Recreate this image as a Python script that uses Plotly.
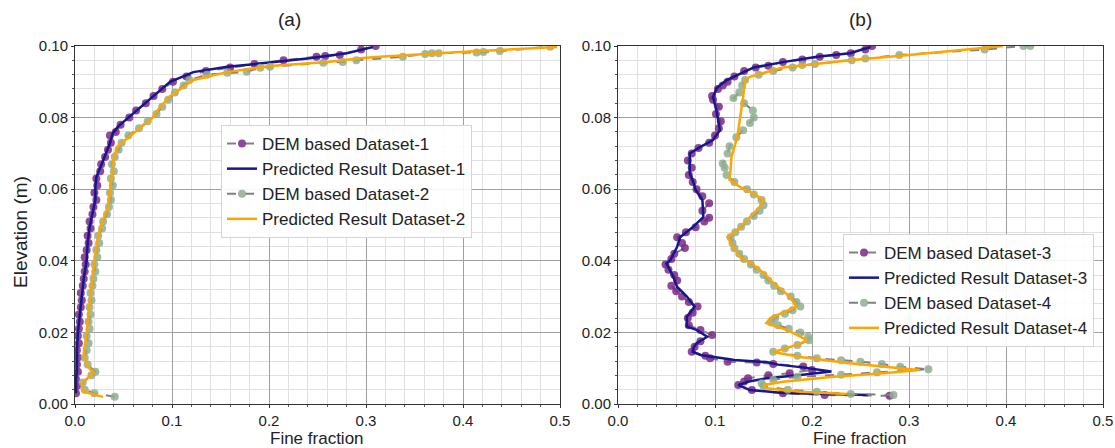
import plotly.graph_objects as go

# ---------------- data: panel (a) ----------------
dem1_y = [0.0030, 0.0050, 0.0070, 0.0090, 0.0110, 0.0130, 0.0150, 0.0170, 0.0190, 0.0210,
          0.0230, 0.0250, 0.0270, 0.0290, 0.0310, 0.0330, 0.0350, 0.0370, 0.0390, 0.0410,
          0.0430, 0.0450, 0.0470, 0.0490, 0.0510, 0.0530, 0.0550, 0.0570, 0.0590, 0.0610,
          0.0630, 0.0650, 0.0670, 0.0690, 0.0710, 0.0730, 0.0750, 0.0760, 0.0780, 0.0800,
          0.0820, 0.0840, 0.0860, 0.0880, 0.0900, 0.0915, 0.0930, 0.0940, 0.0950, 0.0960,
          0.0970, 0.0972, 0.0975, 0.0990, 0.1000]
dem1_x = [0.001, 0.002, 0.001, 0.003, 0.002, 0.003, 0.002, 0.004, 0.003, 0.004,
          0.005, 0.004, 0.006, 0.007, 0.006, 0.008, 0.009, 0.010, 0.011, 0.010,
          0.012, 0.014, 0.013, 0.016, 0.015, 0.018, 0.019, 0.022, 0.020, 0.023,
          0.022, 0.026, 0.027, 0.031, 0.034, 0.037, 0.036, 0.042, 0.047, 0.056,
          0.063, 0.073, 0.081, 0.090, 0.101, 0.115, 0.135, 0.160, 0.185, 0.215,
          0.249, 0.258, 0.273, 0.295, 0.310]

pred1_y = [0.0030, 0.0060, 0.0104, 0.0150, 0.0200, 0.0250, 0.0290, 0.0350, 0.0400, 0.0450,
           0.0494, 0.0530, 0.0570, 0.0606, 0.0634, 0.0673, 0.0700, 0.0729, 0.0757, 0.0774,
           0.0800, 0.0835, 0.0870, 0.0900, 0.0927, 0.0942, 0.0953, 0.0966, 0.0980, 0.0997]
pred1_x = [0.001, 0.001, 0.002, 0.002, 0.003, 0.005, 0.007, 0.009, 0.012, 0.013,
           0.015, 0.018, 0.021, 0.021, 0.022, 0.028, 0.032, 0.036, 0.039, 0.044,
           0.055, 0.070, 0.085, 0.098, 0.122, 0.157, 0.198, 0.242, 0.280, 0.307]

dem2_y = [0.0020, 0.0030, 0.0040, 0.0060, 0.0080, 0.0090, 0.0110, 0.0130, 0.0150, 0.0170,
          0.0190, 0.0210, 0.0230, 0.0250, 0.0270, 0.0290, 0.0310, 0.0330, 0.0350, 0.0370,
          0.0390, 0.0410, 0.0430, 0.0450, 0.0470, 0.0490, 0.0510, 0.0530, 0.0550, 0.0570,
          0.0590, 0.0610, 0.0630, 0.0650, 0.0670, 0.0690, 0.0710, 0.0730, 0.0750, 0.0770,
          0.0790, 0.0810, 0.0830, 0.0850, 0.0870, 0.0890, 0.0905, 0.0920, 0.0925, 0.0928,
          0.0939, 0.0942, 0.0953, 0.0955, 0.0960, 0.0970, 0.0978, 0.0980, 0.0980, 0.0982,
          0.0983, 0.0986, 0.0998]
dem2_x = [0.041, 0.020, 0.010, 0.008, 0.017, 0.021, 0.013, 0.010, 0.012, 0.014,
          0.012, 0.015, 0.014, 0.016, 0.015, 0.017, 0.016, 0.018, 0.019, 0.021,
          0.020, 0.023, 0.022, 0.025, 0.024, 0.028, 0.029, 0.033, 0.035, 0.037,
          0.036, 0.039, 0.037, 0.040, 0.038, 0.041, 0.045, 0.048, 0.055, 0.066,
          0.075, 0.084, 0.090, 0.096, 0.103, 0.112, 0.118, 0.136, 0.157, 0.177,
          0.191, 0.201, 0.256, 0.276, 0.290, 0.338, 0.361, 0.368, 0.375, 0.414,
          0.421, 0.438, 0.490]

pred2_y = [0.0020, 0.0034, 0.0059, 0.0087, 0.0110, 0.0140, 0.0200, 0.0250, 0.0290, 0.0340,
           0.0380, 0.0440, 0.0494, 0.0550, 0.0598, 0.0654, 0.0690, 0.0720, 0.0765, 0.0800,
           0.0830, 0.0860, 0.0905, 0.0927, 0.0944, 0.0955, 0.0966, 0.0970, 0.0983, 0.0997]
pred2_x = [0.029, 0.009, 0.007, 0.019, 0.012, 0.009, 0.012, 0.014, 0.015, 0.017,
           0.019, 0.022, 0.026, 0.034, 0.036, 0.038, 0.040, 0.044, 0.064, 0.080,
           0.088, 0.098, 0.122, 0.157, 0.201, 0.260, 0.294, 0.314, 0.397, 0.497]

# ---------------- data: panel (b) ----------------
dem3_y = [0.0023, 0.0025, 0.0030, 0.0039, 0.0053, 0.0063, 0.0072, 0.0080, 0.0086, 0.0095,
          0.0105, 0.0112, 0.0116, 0.0118, 0.0128, 0.0135, 0.0146, 0.0160, 0.0175, 0.0193,
          0.0207, 0.0220, 0.0240, 0.0255, 0.0272, 0.0285, 0.0300, 0.0315, 0.0330, 0.0345,
          0.0360, 0.0375, 0.0390, 0.0405, 0.0420, 0.0436, 0.0450, 0.0466, 0.0480, 0.0494,
          0.0510, 0.0520, 0.0540, 0.0561, 0.0580, 0.0600, 0.0620, 0.0640, 0.0660, 0.0680,
          0.0700, 0.0715, 0.0730, 0.0750, 0.0770, 0.0790, 0.0810, 0.0830, 0.0850, 0.0860,
          0.0880, 0.0890, 0.0900, 0.0915, 0.0930, 0.0940, 0.0945, 0.0955, 0.0962, 0.0970,
          0.0975, 0.0980, 0.0990, 0.1000]
dem3_x = [0.280, 0.213, 0.170, 0.138, 0.124, 0.130, 0.134, 0.155, 0.177, 0.200,
          0.191, 0.160, 0.143, 0.113, 0.095, 0.090, 0.076, 0.079, 0.085, 0.097,
          0.085, 0.073, 0.072, 0.077, 0.082, 0.073, 0.066, 0.060, 0.055, 0.061,
          0.058, 0.052, 0.049, 0.055, 0.058, 0.069, 0.066, 0.061, 0.070, 0.080,
          0.089, 0.094, 0.087, 0.094, 0.087, 0.081, 0.077, 0.073, 0.076, 0.072,
          0.076, 0.083, 0.094, 0.100, 0.104, 0.106, 0.101, 0.104, 0.098, 0.097,
          0.103, 0.108, 0.113, 0.120, 0.130, 0.142, 0.155, 0.170, 0.190, 0.208,
          0.225, 0.240, 0.255, 0.262]

pred3_y = [0.0025, 0.0028, 0.0031, 0.0039, 0.0053, 0.0063, 0.0072, 0.0081, 0.0091, 0.0103,
           0.0110, 0.0117, 0.0123, 0.0128, 0.0137, 0.0146, 0.0158, 0.0170, 0.0188, 0.0207,
           0.0216, 0.0244, 0.0272, 0.0300, 0.0327, 0.0355, 0.0393, 0.0402, 0.0439, 0.0466,
           0.0494, 0.0522, 0.0570, 0.0598, 0.0626, 0.0645, 0.0700, 0.0718, 0.0737, 0.0765,
           0.0813, 0.0858, 0.0883, 0.0905, 0.0927, 0.0940, 0.0955, 0.0970, 0.0980, 0.0997]
pred3_x = [0.258, 0.205, 0.170, 0.136, 0.124, 0.135, 0.153, 0.188, 0.220, 0.188,
           0.165, 0.153, 0.120, 0.108, 0.085, 0.077, 0.078, 0.081, 0.092, 0.081,
           0.071, 0.071, 0.079, 0.071, 0.061, 0.057, 0.050, 0.054, 0.061, 0.064,
           0.077, 0.088, 0.087, 0.080, 0.077, 0.074, 0.074, 0.085, 0.098, 0.105,
           0.102, 0.098, 0.102, 0.112, 0.129, 0.140, 0.170, 0.205, 0.239, 0.260]

dem4_y = [0.0025, 0.0028, 0.0034, 0.0040, 0.0050, 0.0058, 0.0068, 0.0076, 0.0082, 0.0089,
          0.0097, 0.0104, 0.0112, 0.0118, 0.0122, 0.0128, 0.0135, 0.0146, 0.0155, 0.0165,
          0.0178, 0.0188, 0.0200, 0.0210, 0.0220, 0.0228, 0.0240, 0.0252, 0.0262, 0.0272,
          0.0285, 0.0300, 0.0315, 0.0330, 0.0345, 0.0360, 0.0375, 0.0390, 0.0405, 0.0420,
          0.0435, 0.0450, 0.0466, 0.0480, 0.0495, 0.0510, 0.0525, 0.0540, 0.0555, 0.0570,
          0.0585, 0.0600, 0.0620, 0.0640, 0.0660, 0.0672, 0.0700, 0.0720, 0.0745, 0.0765,
          0.0785, 0.0800, 0.0820, 0.0840, 0.0855, 0.0870, 0.0890, 0.0905, 0.0920, 0.0930,
          0.0940, 0.0947, 0.0950, 0.0960, 0.0965, 0.0975, 0.0990, 0.1000, 0.1000]
dem4_x = [0.284, 0.240, 0.205, 0.175, 0.150, 0.148, 0.160, 0.185, 0.230, 0.267,
          0.320, 0.291, 0.272, 0.250, 0.230, 0.205, 0.185, 0.160, 0.172, 0.185,
          0.197, 0.196, 0.188, 0.176, 0.165, 0.158, 0.162, 0.172, 0.180, 0.188,
          0.184, 0.178, 0.168, 0.161, 0.155, 0.150, 0.143, 0.137, 0.130, 0.125,
          0.120, 0.118, 0.116, 0.121, 0.127, 0.133, 0.140, 0.146, 0.150, 0.148,
          0.140, 0.133, 0.120, 0.112, 0.110, 0.108, 0.113, 0.115, 0.122, 0.129,
          0.136, 0.140, 0.139, 0.130, 0.119, 0.125, 0.128, 0.131, 0.145, 0.160,
          0.180, 0.190, 0.203, 0.241, 0.255, 0.290, 0.378, 0.418, 0.425]

pred4_y = [0.0028, 0.0034, 0.0044, 0.0053, 0.0062, 0.0076, 0.0086, 0.0095, 0.0100, 0.0114,
           0.0131, 0.0145, 0.0165, 0.0178, 0.0188, 0.0207, 0.0226, 0.0240, 0.0272, 0.0300,
           0.0338, 0.0366, 0.0394, 0.0410, 0.0439, 0.0466, 0.0486, 0.0522, 0.0550, 0.0570,
           0.0589, 0.0606, 0.0626, 0.0654, 0.0690, 0.0746, 0.0800, 0.0858, 0.0905, 0.0914,
           0.0940, 0.0960, 0.0975, 0.0994, 0.1000]
pred4_x = [0.236, 0.188, 0.153, 0.150, 0.170, 0.222, 0.273, 0.311, 0.291, 0.239,
           0.188, 0.160, 0.184, 0.195, 0.188, 0.174, 0.153, 0.157, 0.184, 0.177,
           0.160, 0.150, 0.137, 0.126, 0.119, 0.113, 0.123, 0.136, 0.146, 0.150,
           0.139, 0.126, 0.115, 0.116, 0.117, 0.123, 0.126, 0.129, 0.131, 0.136,
           0.170, 0.239, 0.300, 0.376, 0.397]

x_ticks = [0.0, 0.1, 0.2, 0.3, 0.4, 0.5]
y_ticks = [0.00, 0.02, 0.04, 0.06, 0.08, 0.10]

# ---------------- styling ----------------
W, H = 1115, 448
FONT = "Liberation Sans, Arial, sans-serif"
GRAY = "#808080"
PURPLE = "#7a2a86"
NAVY = "#16168e"
GREEN = "#8fae8f"
ORANGE = "#ffa500"

fig = go.Figure()

def dem_trace(x, y, color, name, xa, ya, leg):
    return go.Scatter(x=x, y=y, mode="lines+markers", name=name,
                      line=dict(color=GRAY, width=2, dash="dash"),
                      marker=dict(color=color, size=8, opacity=0.85),
                      xaxis=xa, yaxis=ya, legend=leg)

def pred_trace(x, y, color, name, xa, ya, leg):
    return go.Scatter(x=x, y=y, mode="lines", name=name,
                      line=dict(color=color, width=2.5),
                      xaxis=xa, yaxis=ya, legend=leg)

fig.add_trace(dem_trace(dem1_x, dem1_y, PURPLE, "DEM based Dataset-1", "x", "y", "legend"))
fig.add_trace(pred_trace(pred1_x, pred1_y, NAVY, "Predicted Result Dataset-1", "x", "y", "legend"))
fig.add_trace(dem_trace(dem2_x, dem2_y, GREEN, "DEM based Dataset-2", "x", "y", "legend"))
fig.add_trace(pred_trace(pred2_x, pred2_y, ORANGE, "Predicted Result Dataset-2", "x", "y", "legend"))

fig.add_trace(dem_trace(dem3_x, dem3_y, PURPLE, "DEM based Dataset-3", "x2", "y2", "legend2"))
fig.add_trace(pred_trace(pred3_x, pred3_y, NAVY, "Predicted Result Dataset-3", "x2", "y2", "legend2"))
fig.add_trace(dem_trace(dem4_x, dem4_y, GREEN, "DEM based Dataset-4", "x2", "y2", "legend2"))
fig.add_trace(pred_trace(pred4_x, pred4_y, ORANGE, "Predicted Result Dataset-4", "x2", "y2", "legend2"))

def axis_common(rng, ticks, fmt, minor_dtick):
    return dict(range=rng, tickvals=ticks, tickformat=fmt, showline=True, mirror=True,
                automargin=False,
                linecolor="#333", linewidth=1, showgrid=True, gridcolor="#a0a0a0",
                gridwidth=1, ticks="outside", ticklen=3, tickcolor="#333",
                tickfont=dict(size=15, color="#222", family=FONT), zeroline=False,
                minor=dict(dtick=minor_dtick, showgrid=True, gridcolor="#e0e0e0",
                           ticks="outside", ticklen=2, tickcolor="#555"))

xl = (75 / W, 560 / W)
xr = (618 / W, 1103 / W)
yd = (1 - 404 / H, 1 - 46 / H)

fig.update_layout(
    width=W, height=H, margin=dict(l=0, r=0, t=0, b=0, autoexpand=False),
    paper_bgcolor="white", plot_bgcolor="white",
    font=dict(family=FONT, color="#222"),
    xaxis=dict(domain=list(xl), anchor="y", **axis_common([0, 0.5], x_ticks, ".1f", 0.02)),
    yaxis=dict(domain=list(yd), anchor="x", **axis_common([0, 0.1], y_ticks, ".2f", 0.004)),
    xaxis2=dict(domain=list(xr), anchor="y2", **axis_common([0, 0.5], x_ticks, ".1f", 0.02)),
    yaxis2=dict(domain=list(yd), anchor="x2", **axis_common([0, 0.1], y_ticks, ".2f", 0.004)),
    legend=dict(x=221 / W, y=1 - 125 / H, xanchor="left", yanchor="top",
                bordercolor="#d4d4d4", borderwidth=1, bgcolor="rgba(255,255,255,0.9)",
                font=dict(size=17, family=FONT, color="#222"), tracegroupgap=0),
    legend2=dict(x=843 / W, y=1 - 234 / H, xanchor="left", yanchor="top",
                 bordercolor="#d4d4d4", borderwidth=1, bgcolor="rgba(255,255,255,0.9)",
                 font=dict(size=17, family=FONT, color="#222"), tracegroupgap=0),
    showlegend=True,
)

annos = [
    dict(text="(a)", x=290 / W, y=1 - 19 / H, size=19),
    dict(text="(b)", x=860 / W, y=1 - 19 / H, size=19),
    dict(text="Fine fraction", x=317 / W, y=1 - 438.5 / H, size=17),
    dict(text="Fine fraction", x=860 / W, y=1 - 438.5 / H, size=17),
]
for a in annos:
    fig.add_annotation(xref="paper", yref="paper", showarrow=False,
                       xanchor="center", yanchor="middle", borderpad=0,
                       text=a["text"], x=a["x"], y=a["y"],
                       font=dict(size=a["size"], family=FONT, color="#222"))
fig.add_annotation(text="Elevation (m)", xref="paper", yref="paper", x=20 / W, y=1 - 232 / H,
                   showarrow=False, textangle=-90, xanchor="center", yanchor="middle",
                   font=dict(size=19, family=FONT, color="#222"))

fig.write_html("out.html")
